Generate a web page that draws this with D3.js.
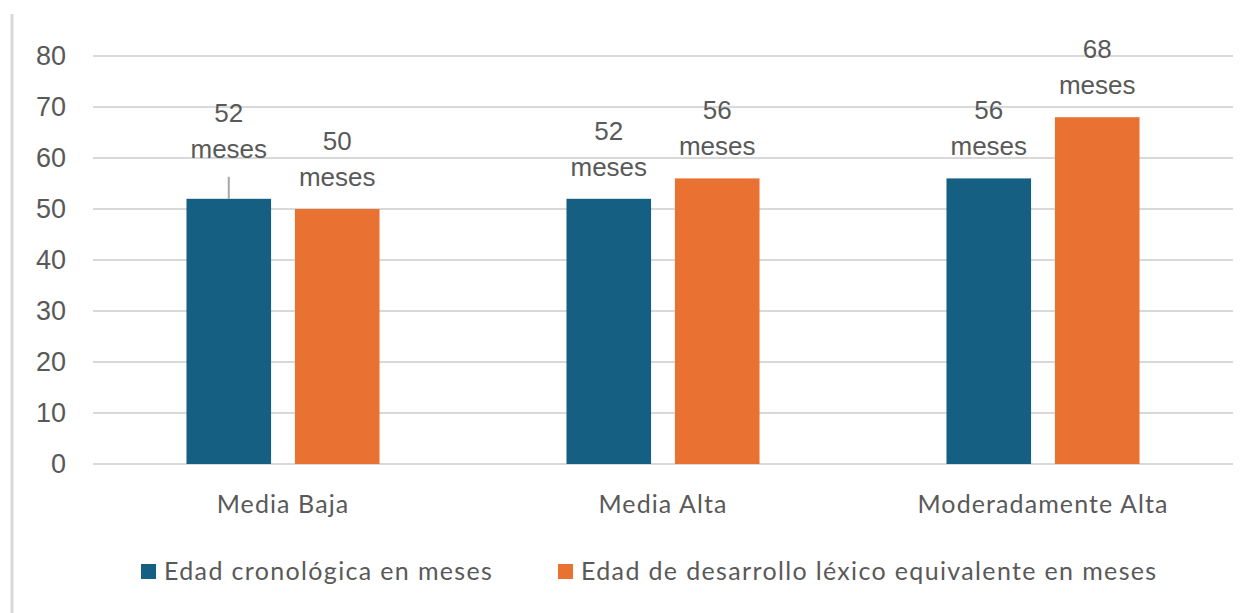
<!DOCTYPE html>
<html>
<head>
<meta charset="utf-8">
<script src="https://cdn.jsdelivr.net/npm/d3@7"></script>
<style>
  body { margin: 0; background: #fff; }
</style>
</head>
<body>
<div id="chart"></div>
<script>
// Data
const categories = ["Media Baja", "Media Alta", "Moderadamente Alta"];
const seriesNames = ["Edad cronológica en meses", "Edad de desarrollo léxico equivalente en meses"];
const cronologica = [52, 52, 56];
const lexico = [50, 56, 68];
const yTicks = [0, 10, 20, 30, 40, 50, 60, 70, 80];

const colors = ["#156082", "#E97132"];

const width = 1258;
const height = 613;
const margin = { top: 56, right: 25, bottom: 149, left: 93 };

const svg = d3.select("#chart")
  .append("svg")
  .attr("width", width)
  .attr("height", height);

// Left frame line
svg.append("line")
  .attr("x1", 12).attr("x2", 12)
  .attr("y1", 14).attr("y2", height)
  .attr("stroke", "#d9d9d9")
  .attr("stroke-width", 3);

// Scales
const x0 = d3.scaleBand()
  .domain(categories)
  .range([margin.left, width - margin.right])
  .paddingInner(0.492)
  .paddingOuter(0.246);

const x1 = d3.scaleBand()
  .domain([0, 1])
  .range([0, x0.bandwidth()])
  .paddingInner(0.22);

const y = d3.scaleLinear()
  .domain([0, 80])
  .range([height - margin.bottom, margin.top]);

// Gridlines
svg.append("g")
  .selectAll("line")
  .data(yTicks)
  .enter()
  .append("line")
  .attr("x1", margin.left)
  .attr("x2", width - margin.right)
  .attr("y1", d => y(d))
  .attr("y2", d => y(d))
  .attr("stroke", "#d9d9d9")
  .attr("stroke-width", 2);

// Y axis labels
const yAxis = svg.append("g")
  .attr("transform", `translate(${margin.left - 27},0)`)
  .call(d3.axisLeft(y).tickValues(yTicks).tickSize(0).tickPadding(0));
yAxis.select(".domain").remove();
yAxis.selectAll("text")
  .attr("fill", "#595959")
  .attr("font-family", "Liberation Sans, Arial, sans-serif")
  .attr("font-size", "27px");

// X axis labels
const xAxis = svg.append("g")
  .attr("transform", `translate(0,${y(0)})`)
  .call(d3.axisBottom(x0).tickSize(0).tickPadding(31));
xAxis.select(".domain").remove();
xAxis.selectAll("text")
  .attr("fill", "#595959")
  .attr("font-family", "Lato, sans-serif")
  .attr("font-size", "25px")
  .attr("letter-spacing", "1.1px");

// Bars
const rows = categories.map((c, i) => ({ cat: c, values: [cronologica[i], lexico[i]] }));

const groups = svg.selectAll(".grp")
  .data(rows)
  .enter()
  .append("g")
  .attr("class", "grp")
  .attr("transform", d => `translate(${x0(d.cat)},0)`);

groups.selectAll("rect")
  .data(d => d.values.map((v, s) => ({ v, s, cat: d.cat })))
  .enter()
  .append("rect")
  .attr("x", d => x1(d.s))
  .attr("width", x1.bandwidth())
  .attr("y", d => y(d.v))
  .attr("height", d => y(0) - y(d.v))
  .attr("fill", d => colors[d.s]);

// Data labels (the first one is pulled up with a leader line)
const labelFont = "Liberation Sans, Arial, sans-serif";
groups.each(function (d, gi) {
  const g = d3.select(this);
  d.values.forEach((v, s) => {
    const cx = x1(s) + x1.bandwidth() / 2;
    const shift = (gi === 0 && s === 0) ? -18 : 0;
    const top = y(v) + shift;
    const t = g.append("text")
      .attr("x", cx)
      .attr("text-anchor", "middle")
      .attr("fill", "#595959")
      .attr("font-family", labelFont)
      .attr("font-size", "26px");
    t.append("tspan").attr("x", cx).attr("y", top - 59).text(v);
    t.append("tspan").attr("x", cx).attr("y", top - 23).text("meses");
    if (shift !== 0) {
      g.append("line")
        .attr("x1", cx).attr("x2", cx)
        .attr("y1", y(v) - 22).attr("y2", y(v))
        .attr("stroke", "#a6a6a6")
        .attr("stroke-width", 2);
    }
  });
});

// Legend
const legendX = [141, 558];
const legend = svg.append("g")
  .selectAll("g")
  .data(seriesNames)
  .enter()
  .append("g")
  .attr("transform", (d, i) => `translate(${legendX[i]},564)`);

legend.append("rect")
  .attr("width", 15)
  .attr("height", 15)
  .attr("fill", (d, i) => colors[i]);

legend.append("text")
  .attr("x", 23)
  .attr("y", 16)
  .attr("fill", "#595959")
  .attr("font-family", "Lato, sans-serif")
  .attr("font-size", "25px")
  .attr("letter-spacing", "1.35px")
  .text(d => d);
</script>
</body>
</html>
